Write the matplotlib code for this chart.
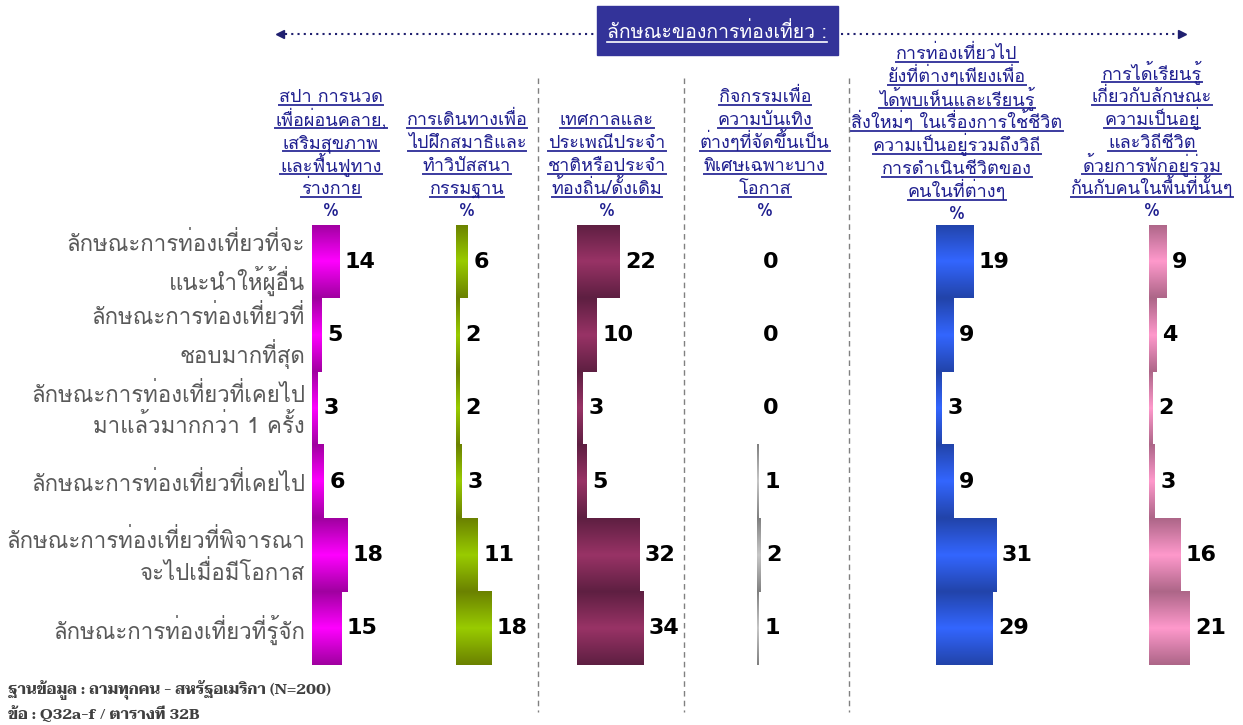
import numpy as np
import matplotlib
matplotlib.use("Agg")
import matplotlib.pyplot as plt
from matplotlib.colors import LinearSegmentedColormap

# ---- data ----
rows = ["ลักษณะการท่องเที่ยวที่จะ\nแนะนำให้ผู้อื่น",
        "ลักษณะการท่องเที่ยวที่\nชอบมากที่สุด",
        "ลักษณะการท่องเที่ยวที่เคยไป\nมาแล้วมากกว่า 1 ครั้ง",
        "ลักษณะการท่องเที่ยวที่เคยไป",
        "ลักษณะการท่องเที่ยวที่พิจารณา\nจะไปเมื่อมีโอกาส",
        "ลักษณะการท่องเที่ยวที่รู้จัก"]

col_titles = [
    ["สปา การนวด", "เพื่อผ่อนคลาย,", "เสริมสุขภาพ", "และฟื้นฟูทาง", "ร่างกาย"],
    ["การเดินทางเพื่อ", "ไปฝึกสมาธิและ", "ทำวิปัสสนา", "กรรมฐาน"],
    ["เทศกาลและ", "ประเพณีประจำ", "ชาติหรือประจำ", "ท้องถิ่น/ดั้งเดิม"],
    ["กิจกรรมเพื่อ", "ความบันเทิง", "ต่างๆที่จัดขึ้นเป็น", "พิเศษเฉพาะบาง", "โอกาส"],
    ["การท่องเที่ยวไป", "ยังที่ต่างๆเพียงเพื่อ", "ได้พบเห็นและเรียนรู้",
     "สิ่งใหม่ๆ ในเรื่องการใช้ชีวิต", "ความเป็นอยู่รวมถึงวิถี",
     "การดำเนินชีวิตของ", "คนในที่ต่างๆ"],
    ["การได้เรียนรู้", "เกี่ยวกับลักษณะ", "ความเป็นอยู่", "และวิถีชีวิต",
     "ด้วยการพักอยู่ร่วม", "กันกับคนในพื้นที่นั้นๆ"],
]

spa = [14, 5, 3, 6, 18, 15]
meditation = [6, 2, 2, 3, 11, 18]
festival = [22, 10, 3, 5, 32, 34]
entertainment = [0, 0, 0, 1, 2, 1]
sightseeing = [19, 9, 3, 9, 31, 29]
homestay = [9, 4, 2, 3, 16, 21]
series = [spa, meditation, festival, entertainment, sightseeing, homestay]

header = "ลักษณะของการท่องเที่ยว :"
foot1 = "ฐานข้อมูล : ถามทุกคน - สหรัฐอเมริกา (N=200)"
foot2 = "ข้อ : Q32a-f / ตารางที่ 32B"

plt.rcParams["font.family"] = ["Loma", "Noto Sans Thai Looped", "DejaVu Sans"]

W, H = 1243, 725
fig = plt.figure(figsize=(W / 100, H / 100), dpi=100)
ov = fig.add_axes([0, 0, 1, 1])
ov.set_xlim(0, W)
ov.set_ylim(H, 0)
ov.axis("off")

# panel geometry in pixels
x0s = [312, 456, 577, 757, 936, 1149]
centers = [331, 467, 607, 765, 957, 1152]
ytop, ybot = 225, 665
ppu = 1.95  # px per percent
grads = [("#a000a0", "#ff00ff"), ("#6b8200", "#99cc00"), ("#5e1f42", "#993366"),
         ("#808080", "#c8c8c8"), ("#2244aa", "#3366ff"), ("#ad6688", "#ff99cc")]

yy = np.arange(len(rows))
for i, vals in enumerate(series):
    wpx = 110
    ax = fig.add_axes([x0s[i] / W, 1 - ybot / H, wpx / W, (ybot - ytop) / H])
    ax.axis("off")
    bars = ax.barh(yy, vals, height=1.0, color="none", edgecolor="none")
    cm = LinearSegmentedColormap.from_list("g%d" % i, [grads[i][0], grads[i][1], grads[i][0]])
    grad = np.linspace(0, 1, 64).reshape(-1, 1)
    for b, v in zip(bars, vals):
        if v > 0:
            ax.imshow(grad, cmap=cm, aspect="auto", interpolation="bilinear",
                      extent=(b.get_x(), b.get_x() + b.get_width(),
                              b.get_y() + b.get_height(), b.get_y()))
        ax.annotate(str(v), (v, b.get_y() + b.get_height() / 2), xytext=(4, 0),
                    textcoords="offset points", va="center", ha="left",
                    fontsize=16, fontweight="bold", family="DejaVu Sans")
    ax.set_xlim(0, wpx / ppu)
    ax.set_ylim(len(rows) - 0.5, -0.5)

# row labels
rowh = (ybot - ytop) / len(rows)
for k, r in enumerate(rows):
    ov.text(305, ytop + rowh * (k + 0.5) + 2, r, ha="right", va="center",
            fontsize=16, color="#595959", linespacing=1.4)

# separators
for xs in [538, 684, 849]:
    ov.plot([xs, xs], [78, 712], color="#808080", lw=1, ls=(0, (4, 3)))

# column titles with underline
renderer = fig.canvas.get_renderer()
navy = "#1f1f8f"
lh = 23
for i, lines in enumerate(col_titles):
    ybase = 194 if i != 4 else 197
    n = len(lines)
    for j, ln in enumerate(lines):
        yb = ybase - (n - 1 - j) * lh
        t = ov.text(centers[i], yb, ln, ha="center", va="baseline",
                    fontsize=13, color=navy)
        bb = t.get_window_extent(renderer)
        ov.plot([bb.x0, bb.x1], [yb + 3, yb + 3], color="#3b3b9f", lw=1.4)
    ov.text(centers[i], ybase + lh - 1, "%", ha="center", va="baseline",
            fontsize=13, color=navy)

# top banner
navy2 = "#333399"
ov.add_patch(plt.Rectangle((597, 6), 241, 49, color=navy2, zorder=3))
t = ov.text(717, 38, header, ha="center", va="baseline", fontsize=14,
            color="white", zorder=4)
bb = t.get_window_extent(renderer)
ov.plot([bb.x0, bb.x1], [42, 42], color="white", lw=1.2, zorder=4)
ov.plot([285, 594], [34, 34], color="#1f1f6f", lw=1.5, ls=(0, (1, 2)))
ov.plot([841, 1178], [34, 34], color="#1f1f6f", lw=1.5, ls=(0, (1, 2)))
ov.plot([280], [34], marker="<", color="#1f1f6f", ms=6)
ov.plot([1182], [34], marker=">", color="#1f1f6f", ms=6)

# footnote
for yf, txt in [(690, foot1), (714, foot2)]:
    ov.text(8, yf, txt, ha="left", va="center", fontsize=11, color="#404040",
            fontweight="bold", family=["Taviraj", "Noto Serif Thai", "DejaVu Serif"])

fig.savefig("out.png", dpi=100)
